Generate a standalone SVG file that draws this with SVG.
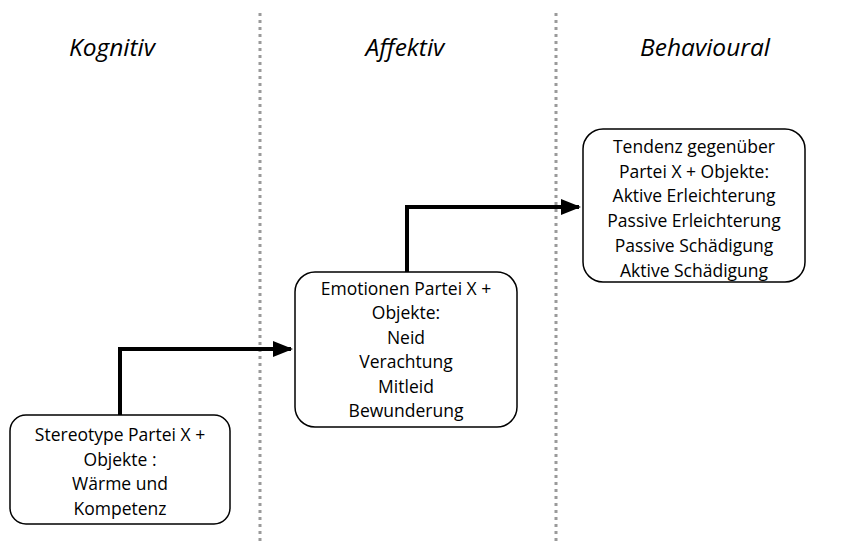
<svg xmlns="http://www.w3.org/2000/svg" width="847" height="543" viewBox="0 0 847 543">
<style>
.bg{fill:#fff}
.sep{stroke:#9a9a9a;stroke-width:3;stroke-dasharray:3 4;fill:none}
.title{font-family:"Open Sans","Liberation Sans",sans-serif;font-style:italic;font-size:24.5px;fill:#000;text-anchor:middle}
.box{fill:#fff;stroke:#000;stroke-width:1.5}
.t{font-family:"Open Sans","Liberation Sans",sans-serif;font-size:17.5px;fill:#000;text-anchor:middle}
.conn{fill:none;stroke:#000;stroke-width:4}
</style>
<defs>
<marker id="ah" markerWidth="5" markerHeight="4" refX="4.5" refY="2" orient="auto" markerUnits="strokeWidth">
<path d="M0,0 L5,2 L0,4 Z" fill="#000"/>
</marker>
</defs>
<rect class="bg" x="0" y="0" width="847" height="543"/>
<g id="separators">
<line class="sep" x1="260" y1="13" x2="260" y2="543"/>
<line class="sep" x1="556" y1="13" x2="556" y2="543"/>
</g>
<g id="titles">
<text class="title" x="112" y="56">Kognitiv</text>
<text class="title" x="405" y="56">Affektiv</text>
<text class="title" x="705" y="56">Behavioural</text>
</g>
<g id="connectors">
<path class="conn" d="M120,415 V349 H291" marker-end="url(#ah)"/>
<path class="conn" d="M407,272 V207 H579" marker-end="url(#ah)"/>
</g>
<g id="node-kognitiv">
<rect class="box" x="10" y="415" width="220" height="109" rx="16"/>
<text class="t" x="120" y="441">Stereotype Partei X +</text>
<text class="t" x="120" y="466">Objekte :</text>
<text class="t" x="120" y="490">Wärme und</text>
<text class="t" x="120" y="515">Kompetenz</text>
</g>
<g id="node-affektiv">
<rect class="box" x="295" y="272" width="222" height="155" rx="20"/>
<text class="t" x="406" y="295">Emotionen Partei X +</text>
<text class="t" x="406" y="319">Objekte:</text>
<text class="t" x="406" y="344">Neid</text>
<text class="t" x="406" y="368">Verachtung</text>
<text class="t" x="406" y="393">Mitleid</text>
<text class="t" x="406" y="417">Bewunderung</text>
</g>
<g id="node-behavioural">
<rect class="box" x="583" y="129" width="222" height="153" rx="20"/>
<text class="t" x="694" y="153">Tendenz gegenüber</text>
<text class="t" x="694" y="178">Partei X + Objekte:</text>
<text class="t" x="694" y="202">Aktive Erleichterung</text>
<text class="t" x="694" y="227">Passive Erleichterung</text>
<text class="t" x="694" y="252">Passive Schädigung</text>
<text class="t" x="694" y="277">Aktive Schädigung</text>
</g>
</svg>
